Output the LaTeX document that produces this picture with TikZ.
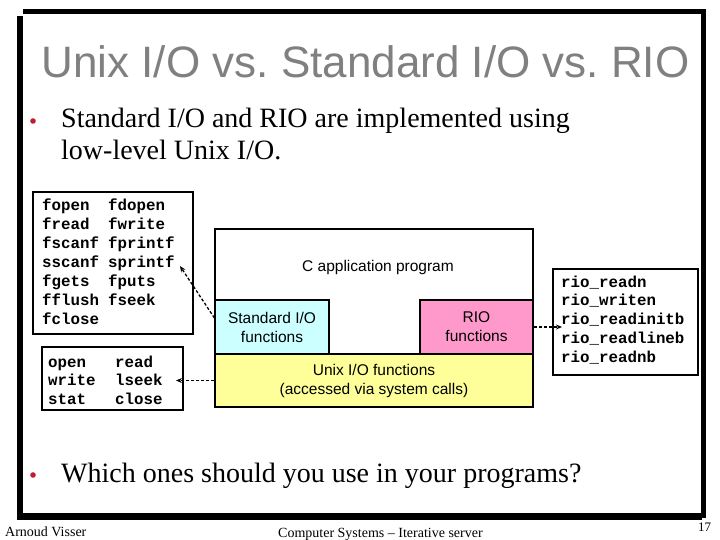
\documentclass[tikz,border=0pt]{standalone}
\usepackage{fontspec}
\setmainfont{Liberation Serif}
\newfontfamily\arialf{Liberation Sans}
\newfontfamily\courf{Liberation Mono}
\usetikzlibrary{arrows.meta}
\frenchspacing
\definecolor{titlegray}{RGB}{128,128,128}
\definecolor{bulletred}{RGB}{190,30,45}
\definecolor{stdcyan}{RGB}{204,255,255}
\definecolor{riopink}{RGB}{255,153,204}
\definecolor{unixyellow}{RGB}{255,255,153}
\tikzset{
  code/.style={font=\courf\bfseries\fontsize{15.8}{19}\selectfont, inner sep=0pt, anchor=base west},
  codebox/.style={draw, line width=1.5pt, fill=white, inner sep=0pt},
  layer/.style={draw, line width=1.2pt, inner sep=0pt, font=\arialf\fontsize{15.5}{19}\selectfont, align=center},
  dashconn/.style={line width=1.3pt, dash pattern=on 3pt off 2pt, -{Stealth[length=6pt,width=5pt]}},
  bullettext/.style={font=\fontsize{28}{32}\selectfont, inner sep=0pt, anchor=base west},
  foot/.style={font=\fontsize{14}{16}\selectfont, inner sep=0pt, anchor=base west},
}
\begin{document}
\begin{tikzpicture}[x=1pt,y=-1pt]
\useasboundingbox (0,0) rectangle (720,540);
% frame
\fill[white] (0,0) rectangle (720,540);
\fill[black] (17,16) rectangle (23,520);
\fill[black] (23,9) rectangle (706,14);
\fill[black] (701,9) rectangle (706,518);
\fill[black] (17,513) rectangle (702,520);
% title
\node[font=\arialf\fontsize{44}{50}\selectfont, text=titlegray, inner sep=0pt, anchor=base] (title) at (365.5,78) {Unix I/O vs. Standard I/O vs. RIO};
% bullets
\fill[bulletred] (33,121) circle (2.8);
\node[bullettext] (b1a) at (61,128) {Standard I/O and RIO are implemented using};
\node[bullettext] (b1b) at (61,160) {low-level Unix I/O.};
\fill[bulletred] (33,475) circle (2.8);
\node[bullettext] (b2) at (61,482) {Which ones should you use in your programs?};
% stdio box
\node[codebox, minimum width=160pt, minimum height=142pt] (stdbox) at (113,263) {};
\foreach \a/\b [count=\i] in {fopen/fdopen, fread/fwrite, fscanf/fprintf, sscanf/sprintf, fgets/fputs, fflush/fseek}{
  \node[code] (sl\i) at (42,{211+18.9*(\i-1)}) {\a};
  \node[code] (sr\i) at (108,{211+18.9*(\i-1)}) {\b};
}
\node[code] (sl7) at (42,324.4) {fclose};
% unix box
\node[codebox, minimum width=141pt, minimum height=63pt] (unixbox) at (112.5,378.5) {};
\foreach \a/\b [count=\i] in {open/read, write/lseek, stat/close}{
  \node[code] (ul\i) at (48,{367+18.8*(\i-1)}) {\a};
  \node[code] (ur\i) at (115,{367+18.8*(\i-1)}) {\b};
}
% rio box
\node[codebox, minimum width=145pt, minimum height=106pt] (riobox) at (625.5,322) {};
\foreach \a [count=\i] in {rio\_readn, rio\_writen, rio\_readinitb, rio\_readlineb, rio\_readnb}{
  \node[code] (rl\i) at (561,{287+18.8*(\i-1)}) {\a};
}
% main diagram
\node[layer, fill=white, minimum width=318pt, minimum height=178pt] (app) at (374,318) {};
\node[inner sep=0pt, font=\arialf\fontsize{15.5}{19}\selectfont] (apptext) at (378,267) {C application program};
\node[layer, fill=stdcyan, minimum width=114pt, minimum height=54pt] (std) at (272,327) {Standard I/O\\functions};
\node[layer, fill=riopink, minimum width=113pt, minimum height=54pt] (rio) at (476.5,327) {RIO\\functions};
\node[layer, fill=unixyellow, minimum width=318pt, minimum height=53pt] (unix) at (374,380.5) {Unix I/O functions\\(accessed via system calls)};
% connectors
\coordinate (t1) at (180,266);
\coordinate (t2) at (176,380.5);
\coordinate (t3) at (562,327);
\draw[dashconn] ([yshift=9pt]std.west) -- (t1);
\draw[dashconn] (unix.west) -- (t2);
\draw[dashconn] (rio.east) -- (t3);
% footer
\node[foot] (author) at (5,536) {Arnoud Visser};
\node[foot] (course) at (278,537) {Computer Systems – Iterative server};
\node[foot, font=\fontsize{13}{15}\selectfont] (page) at (698,531) {17};
\end{tikzpicture}
\end{document}
